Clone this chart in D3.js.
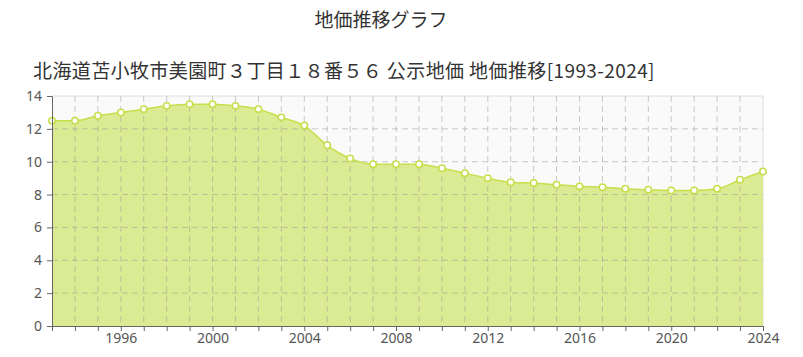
<!DOCTYPE html>
<html><head><meta charset="utf-8">
<script src="https://cdn.jsdelivr.net/npm/d3@7"></script>
<style>body{margin:0;background:#fff;}svg{display:block;}</style>
</head><body>
<script>
const years = [1993,1994,1995,1996,1997,1998,1999,2000,2001,2002,2003,2004,2005,2006,2007,2008,2009,2010,2011,2012,2013,2014,2015,2016,2017,2018,2019,2020,2021,2022,2023,2024];
const values = [12.5,12.5,12.8,13.0,13.2,13.4,13.5,13.5,13.4,13.2,12.7,12.2,11.0,10.2,9.85,9.85,9.85,9.6,9.3,9.0,8.75,8.7,8.6,8.5,8.45,8.35,8.3,8.25,8.25,8.35,8.9,9.4];
const yTicks = [0,2,4,6,8,10,12,14];
const xLabelYears = [1996,2000,2004,2008,2012,2016,2020,2024];
const title = "地価推移グラフ";
const subtitle = "北海道苫小牧市美園町３丁目１８番５６ 公示地価 地価推移[1993-2024]";

const W=803,H=357;
const m={l:52,r:763,t:96,b:326};
const svg=d3.select("body").append("svg").attr("width",W).attr("height",H);
const font="'Noto Sans CJK JP','Noto Sans',sans-serif";
const tickFont="'Noto Sans',sans-serif";
const x=d3.scaleLinear().domain([1993,2024]).range([m.l,m.r]);
const y=d3.scaleLinear().domain([0,14]).range([m.b,m.t]);

svg.append("text").attr("x",381).attr("y",27).attr("text-anchor","middle")
  .attr("font-family",font).attr("font-size",19).attr("fill","#333").text(title);
svg.append("text").attr("x",33).attr("y",78).attr("letter-spacing",0.4)
  .attr("font-family",font).attr("font-size",19).attr("fill","#333").text(subtitle);

svg.append("rect").attr("x",m.l).attr("y",m.t).attr("width",m.r-m.l).attr("height",m.b-m.t).attr("fill","#fafafa");
svg.append("path").attr("d",`M${m.l},${m.t}H${m.r}V${m.b}`).attr("fill","none").attr("stroke","#ddd");

const area=d3.area().x((d,i)=>x(years[i])).y0(y(0)).y1(d=>y(d)).curve(d3.curveMonotoneX);
const line=d3.line().x((d,i)=>x(years[i])).y(d=>y(d)).curve(d3.curveMonotoneX);
svg.append("path").datum(values).attr("d",area).attr("fill","#dbeb93");

const g=svg.append("g");
years.forEach(yr=>{ if(yr>1993&&yr<2024) g.append("line").attr("x1",x(yr)).attr("x2",x(yr)).attr("y1",m.t).attr("y2",m.b)
  .attr("stroke","#999").attr("stroke-opacity",0.5).attr("stroke-dasharray","6,4"); });
yTicks.forEach(v=>{ if(v>0&&v<14) g.append("line").attr("x1",m.l).attr("x2",m.r).attr("y1",y(v)).attr("y2",y(v))
  .attr("stroke","#999").attr("stroke-opacity",0.5).attr("stroke-dasharray","6,4"); });

svg.append("path").datum(values).attr("d",line).attr("fill","none").attr("stroke","#c6df4a").attr("stroke-width",1.5);
svg.selectAll("circle.p").data(values).enter().append("circle")
  .attr("cx",(d,i)=>x(years[i])).attr("cy",d=>y(d)).attr("r",3.2)
  .attr("fill","#fff").attr("stroke","#c6df4a").attr("stroke-width",1.5);

const yAxis=d3.axisLeft(y).tickValues(yTicks).tickSize(5).tickPadding(5).tickFormat(d3.format("d"));
const ya=svg.append("g").attr("transform",`translate(${m.l},0)`).call(yAxis);
const xAxis=d3.axisBottom(x).tickValues(years).tickSize(5).tickPadding(2)
  .tickFormat(d=>xLabelYears.includes(d)?String(d):"");
const xa=svg.append("g").attr("transform",`translate(0,${m.b})`).call(xAxis);
[ya,xa].forEach(a=>{
  a.select(".domain").attr("stroke","#666");
  a.selectAll(".tick line").attr("stroke","#666");
  a.selectAll("text").attr("font-family",tickFont).attr("font-size",14).attr("fill","#555");
});
</script>
</body></html>
